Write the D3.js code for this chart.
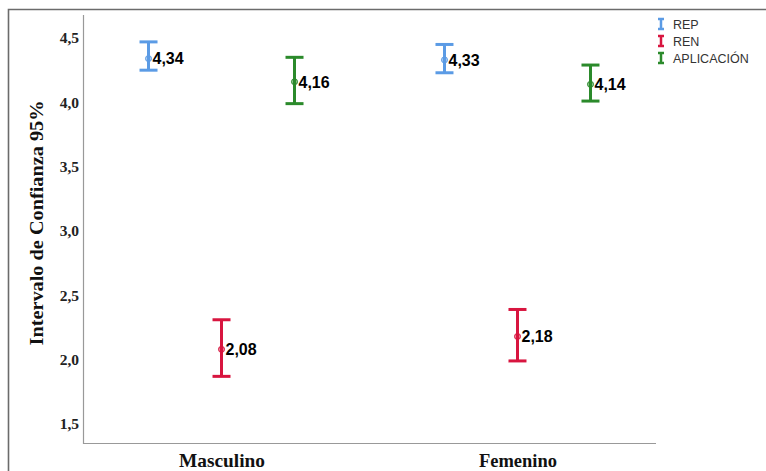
<!DOCTYPE html>
<html><head><meta charset="utf-8">
<script src="https://cdn.jsdelivr.net/npm/d3@7"></script>
<style>body{margin:0;background:#fff}svg{display:block}</style>
</head><body>
<svg id="c" width="766" height="471"></svg>
<script>
const categories = ["Masculino", "Femenino"];
const series = ["REP", "REN", "APLICACIÓN"];
const colors = ["#5b9be5", "#d8153f", "#2b8a2b"];
// means per series per category
const means = [[4.34, 4.33], [2.08, 2.18], [4.16, 4.14]];
const lower = [[4.25, 4.23], [1.87, 1.99], [3.99, 4.01]];
const upper = [[4.47, 4.45], [2.31, 2.39], [4.35, 4.29]];
const meanLabels = [["4,34", "4,33"], ["2,08", "2,18"], ["4,16", "4,14"]];
const yTicks = [1.5, 2.0, 2.5, 3.0, 3.5, 4.0, 4.5];
const yTickLabels = ["1,5", "2,0", "2,5", "3,0", "3,5", "4,0", "4,5"];

const svg = d3.select("#c");
const L = 83, R = 656, T = 15, B = 443;
const serif = "'Liberation Serif', 'Times New Roman', serif";

// outer frame
svg.append("path").attr("d", `M8.5,471 V9.5 H766`).attr("fill", "none").attr("stroke", "#6b6b6b").attr("stroke-width", 1.6);

const y = d3.scaleLinear().domain([1.352, 4.679]).range([B, T]);
const x = d3.scalePoint().domain(categories).range([L, R]).padding(0.468);
const xs = d3.scalePoint().domain(series).range([-73, 73]);

// axes lines
svg.append("path").attr("d", `M${L+0.5},${T} V${B+0.5} H${R}`).attr("fill", "none").attr("stroke", "#999").attr("stroke-width", 1.2);

// y tick labels
const yAxis = d3.axisLeft(y).tickValues(yTicks).tickFormat((d, i) => yTickLabels[i]).tickSize(0).tickPadding(4);
const ga = svg.append("g").attr("transform", `translate(${L},0)`).call(yAxis);
ga.select(".domain").remove();
ga.selectAll("text").attr("font-family", serif).attr("font-weight", "bold").attr("font-size", 15.5).attr("fill", "#222");

// x category labels
const xAxis = d3.axisBottom(x).tickSize(0).tickPadding(11);
const gx = svg.append("g").attr("transform", `translate(0,${B})`).call(xAxis);
gx.select(".domain").remove();
gx.selectAll("text").attr("font-family", serif).attr("font-weight", "bold").attr("font-size", 19).attr("fill", "#111")
  .attr("textLength", (d) => d === "Masculino" ? 86 : 78).attr("lengthAdjust", "spacingAndGlyphs");

// y title
svg.append("text").attr("transform", `translate(43,223) rotate(-90)`).attr("text-anchor", "middle")
  .attr("font-family", serif).attr("font-weight", "bold").attr("font-size", 19).attr("fill", "#111")
  .attr("textLength", 245).attr("lengthAdjust", "spacingAndGlyphs")
  .text("Intervalo de Confianza 95%");

// error bars
const capW = 18;
series.forEach((s, si) => {
  categories.forEach((c, ci) => {
    const cx = x(c) + xs(s);
    const g = svg.append("g");
    const col = colors[si];
    g.append("line").attr("x1", cx).attr("x2", cx).attr("y1", y(upper[si][ci])).attr("y2", y(lower[si][ci])).attr("stroke", col).attr("stroke-width", 3);
    [upper[si][ci], lower[si][ci]].forEach(v => {
      g.append("line").attr("x1", cx - capW / 2).attr("x2", cx + capW / 2).attr("y1", y(v)).attr("y2", y(v)).attr("stroke", col).attr("stroke-width", 3);
    });
    g.append("circle").attr("cx", cx).attr("cy", y(means[si][ci])).attr("r", 3).attr("fill", col).attr("fill-opacity", 0.5).attr("stroke", col).attr("stroke-width", 1);
    g.append("text").attr("x", cx + 4).attr("y", y(means[si][ci])).attr("dy", "0.36em")
      .attr("font-family", "'Liberation Sans', Arial, sans-serif").attr("font-weight", "bold").attr("font-size", 16).attr("fill", "#000")
      .text(meanLabels[si][ci]);
  });
});

// legend
const lg = svg.append("g").attr("transform", "translate(661,24)");
series.forEach((s, i) => {
  const g = lg.append("g").attr("transform", `translate(0,${i * 17})`);
  g.append("path").attr("d", "M-3,-5 H3 M0,-5 V5 M-3,5 H3").attr("stroke", colors[i]).attr("stroke-width", 2.5).attr("fill", "none");
  g.append("text").attr("x", 12).attr("y", 0).attr("dy", "0.36em").attr("font-family", "'Liberation Sans', Arial, sans-serif").attr("font-size", 12.5).attr("fill", "#333").text(s);
});
</script>
</body></html>
